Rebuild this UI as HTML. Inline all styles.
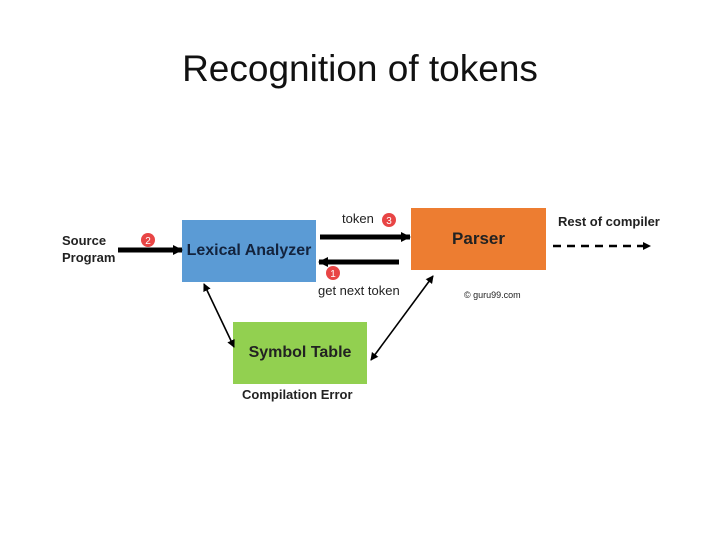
<!DOCTYPE html><html><head><style>body{margin:0;width:720px;height:540px;background:#fff;position:relative;overflow:hidden;font-family:"Liberation Sans",sans-serif}
.t{position:absolute;white-space:nowrap}
</style></head><body>
<div class="t" style="left:0;width:720px;text-align:center;top:48px;font-size:37px;color:#111">Recognition of tokens</div>
<svg width="720" height="540" style="position:absolute;left:0;top:0">
<defs><marker id="a" markerWidth="8" markerHeight="8" refX="7" refY="4" orient="auto-start-reverse" markerUnits="userSpaceOnUse"><path d="M0,0L8,4L0,8z" fill="#000"/></marker>
<marker id="b" markerWidth="10" markerHeight="10" refX="9" refY="5" orient="auto" markerUnits="userSpaceOnUse"><path d="M0,0L10,5L0,10z" fill="#000"/></marker></defs>
<rect x="182" y="220" width="134" height="62" fill="#5b9bd5"/>
<rect x="411" y="208" width="135" height="62" fill="#ed7d31"/>
<rect x="233" y="322" width="134" height="62" fill="#92d050"/>
<line x1="118" y1="250" x2="182" y2="250" stroke="#000" stroke-width="5" marker-end="url(#b)"/>
<line x1="320" y1="237" x2="410" y2="237" stroke="#000" stroke-width="5" marker-end="url(#b)"/>
<line x1="399" y1="262" x2="319" y2="262" stroke="#000" stroke-width="5" marker-end="url(#b)"/>
<line x1="553" y1="246" x2="650" y2="246" stroke="#000" stroke-width="2.5" stroke-dasharray="8,6" marker-end="url(#a)"/>
<line x1="204" y1="284" x2="234" y2="347" stroke="#000" stroke-width="1.6" marker-start="url(#a)" marker-end="url(#a)"/>
<line x1="433" y1="276" x2="371" y2="360" stroke="#000" stroke-width="1.6" marker-start="url(#a)" marker-end="url(#a)"/>
<g fill="#e84545"><circle cx="148" cy="240" r="7"/><circle cx="389" cy="220" r="7"/><circle cx="333" cy="273" r="7"/></g>
<g fill="#fff" font-size="10" text-anchor="middle"><text x="148" y="244">2</text><text x="389" y="224">3</text><text x="333" y="277">1</text></g>
</svg>
<div class="t" style="left:62px;top:232px;font-size:13px;font-weight:bold;line-height:17px;color:#222">Source<br>Program</div>
<div class="t" style="left:182px;width:134px;text-align:center;top:242px;font-size:16px;font-weight:bold;color:#13233d">Lexical Analyzer</div>
<div class="t" style="left:411px;width:135px;text-align:center;top:229px;font-size:17px;font-weight:bold;color:#222">Parser</div>
<div class="t" style="left:233px;width:134px;text-align:center;top:344px;font-size:16px;font-weight:bold;color:#222">Symbol Table</div>
<div class="t" style="left:342px;top:211px;font-size:13px;color:#222">token</div>
<div class="t" style="left:318px;top:283px;font-size:13px;color:#222">get next token</div>
<div class="t" style="left:558px;top:214px;font-size:13px;font-weight:bold;color:#222">Rest of compiler</div>
<div class="t" style="left:464px;top:290px;font-size:9px;color:#222">© guru99.com</div>
<div class="t" style="left:242px;top:387px;font-size:13px;font-weight:bold;color:#222">Compilation Error</div>
</body></html>
